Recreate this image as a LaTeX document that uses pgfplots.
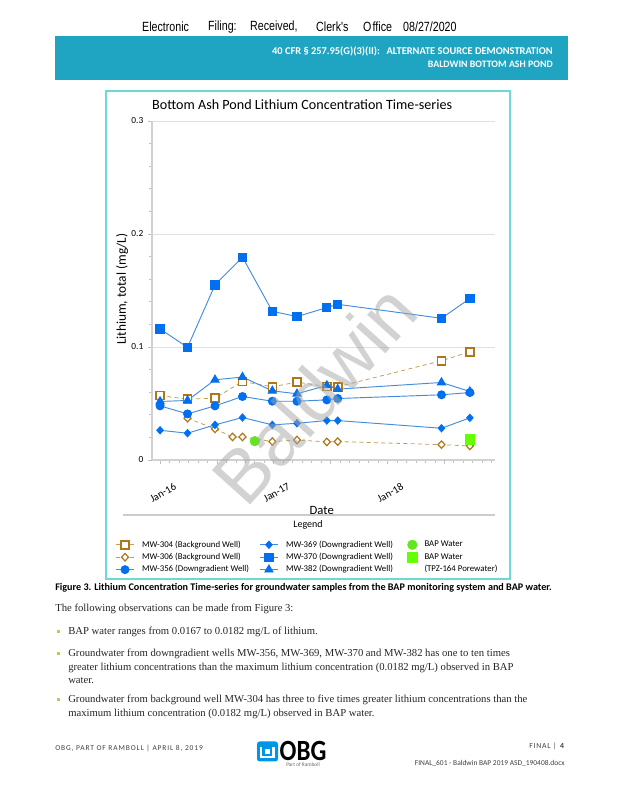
\documentclass[border=0pt]{standalone}
\usepackage{fontspec}
\setmainfont{Carlito}
\newfontfamily\arialf{Liberation Sans}
\newfontfamily\bodyf{Liberation Serif}
\usepackage{pgfplots}
\pgfplotsset{compat=1.18}

\definecolor{banner}{RGB}{31,164,193}
\definecolor{frame}{RGB}{110,215,215}
\definecolor{bluem}{RGB}{0,112,240}
\definecolor{bluel}{RGB}{68,140,220}
\definecolor{brownm}{RGB}{178,118,24}
\definecolor{tanl}{RGB}{190,160,90}
\definecolor{bapg}{RGB}{100,230,30}
\definecolor{bapsq}{RGB}{102,255,0}
\definecolor{bulletc}{RGB}{196,200,90}
\definecolor{obg}{RGB}{0,150,230}

\begin{document}
\begin{tikzpicture}[x=0.75pt,y=0.75pt]
\fill[white] (0,0) rectangle (618,800);

% filing stamp
\begin{scope}[every node/.style={anchor=west, inner sep=0, font=\arialf\fontsize{10}{12}\selectfont, xscale=0.8}]
\node at (142,773) {Electronic};
\node at (208,773) {Filing:};
\node at (250,773) {Received,};
\node at (316,773) {Clerk's};
\node at (363,773) {O};
\node at (372.5,773) {ffice};
\node at (403,773) {08/27/2020};
\end{scope}

% banner
\fill[banner] (55,720) rectangle (568,764);
\node[anchor=east, inner sep=0, text=white, font=\bfseries\fontsize{7.8}{9}\selectfont] at (553,748.5) {40 CFR § 257.95(G)(3)(II):\hspace{5pt}ALTERNATE SOURCE DEMONSTRATION};
\node[anchor=east, inner sep=0, text=white, font=\bfseries\fontsize{7.4}{9}\selectfont] at (553,735.5) {BALDWIN BOTTOM ASH POND};

% chart frame
\draw[frame, line width=0.9pt] (106,221) rectangle (510,709);

\begin{axis}[
  at={(114pt,255pt)}, anchor=south west,
  width=257.25pt, height=254.25pt, scale only axis,
  xmin=-0.85, xmax=35.35, ymin=0, ymax=0.3,
  axis x line*=bottom, axis y line*=left,
  axis line style={draw=black!18, line width=0.8pt},
  tick style={draw=black!25, line width=0.5pt},
  tick align=outside,
  major tick length=3pt, minor tick length=2pt,
  /pgf/number format/assume math mode=true,
  ytick={0,0.1,0.2,0.3},
  minor ytick={0.02,0.04,0.06,0.08,0.12,0.14,0.16,0.18,0.22,0.24,0.26,0.28},
  ymajorgrids, major grid style={draw=black!12, line width=0.6pt},
  xtick={0,12,24}, xticklabels={Jan-16,Jan-17,Jan-18},
  extra x ticks={6,18,30}, extra x tick labels={},
  minor xtick={-0,1,...,35},
  yticklabel style={font=\fontsize{7}{8}\selectfont},
  xticklabel style={font=\fontsize{8}{9}\selectfont, rotate=30, anchor=north east, xshift=5.2pt, yshift=-13.5pt},
  title={Bottom Ash Pond Lithium Concentration Time-series},
  title style={at={(axis description cs:0.438,1.025)}, anchor=center, font=\fontsize{10.6}{12}\selectfont},
  xlabel={Date},
  xlabel style={at={(axis description cs:0.495,-0.150)}, anchor=center, font=\fontsize{9.5}{11}\selectfont},
  ylabel={Lithium, total (mg/L)},
  ylabel style={at={(axis description cs:-0.087,0.504)}, anchor=center, font=\fontsize{10}{12}\selectfont},
  legend columns=3, transpose legend,
  legend image code/.code={\draw[mark repeat=2,mark phase=2,#1] plot coordinates {(0pt,0pt) (7pt,0pt) (14pt,0pt)};},
  legend style={at={(axis description cs:-0.108,-0.231)}, anchor=north west,
    draw=none, fill=none, inner sep=0pt, font=\fontsize{6.6}{8}\selectfont,
    row sep=0pt, nodes={inner sep=1.5pt},
    /tikz/every odd column/.append style={column sep=4pt},
    /tikz/every even column/.append style={column sep=6pt}},
  legend cell align=left,
]
\addplot[color=tanl, line width=0.6pt, dash pattern=on 3pt off 2.5pt, mark=square*, mark size=3pt,
  mark options={draw=brownm, fill=white, line width=1.2pt, solid}] coordinates {
  (0,0.0571) (2.9,0.0538) (5.8,0.0547) (8.7,0.0695) (11.85,0.0648) (14.45,0.0689) (17.6,0.0650) (18.75,0.0648) (29.7,0.0878) (32.7,0.0958)};
\addlegendentry{MW-304 (Background Well)}
\addplot[color=tanl, line width=0.6pt, dash pattern=on 3pt off 2.5pt, mark=diamond*, mark size=2.8pt,
  mark options={draw=brownm, fill=white, line width=0.9pt, solid, xscale=1.25}] coordinates {
  (2.9,0.0370) (5.8,0.0275) (7.65,0.0204) (8.7,0.0204) (11.85,0.0163) (14.45,0.0177) (17.6,0.0160) (18.75,0.0163) (29.7,0.0136) (32.7,0.0124)};
\addlegendentry{MW-306 (Background Well)}
\addplot[color=bluel, line width=0.7pt, mark=*, mark size=3pt, mark options={draw=bluem, fill=bluem}] coordinates {
  (0,0.0479) (2.9,0.0408) (5.8,0.0479) (8.7,0.0562) (11.85,0.0520) (14.45,0.0520) (17.6,0.0532) (18.75,0.0544) (29.7,0.0577) (32.7,0.0597)};
\addlegendentry{MW-356 (Downgradient Well)}
\addplot[color=bluel, line width=0.7pt, mark=diamond*, mark size=2.7pt, mark options={draw=bluem, fill=bluem, xscale=1.2}] coordinates {
  (0,0.0263) (2.9,0.0237) (5.8,0.0311) (8.7,0.0376) (11.85,0.0311) (14.45,0.0325) (17.6,0.0349) (18.75,0.0349) (29.7,0.0281) (32.7,0.0373)};
\addlegendentry{MW-369 (Downgradient Well)}
\addplot[color=bluel, line width=0.7pt, mark=square*, mark size=3.1pt, mark options={draw=bluem, fill=bluem}] coordinates {
  (0,0.1160) (2.9,0.0997) (5.8,0.1550) (8.7,0.1795) (11.85,0.1316) (14.45,0.1269) (17.6,0.1349) (18.75,0.1378) (29.7,0.1254) (32.7,0.1429)};
\addlegendentry{MW-370 (Downgradient Well)}
\addplot[color=bluel, line width=0.7pt, mark=triangle*, mark size=3.5pt, mark options={draw=bluem, fill=bluem}] coordinates {
  (0,0.0518) (2.9,0.0527) (5.8,0.0710) (8.7,0.0734) (11.85,0.0612) (14.45,0.0586) (17.6,0.0660) (18.75,0.0627) (29.7,0.0686) (32.7,0.0606)};
\addlegendentry{MW-382 (Downgradient Well)}
\addplot[only marks, mark=*, mark size=3.6pt, mark options={draw=bapg, fill=bapg}] coordinates {(10.0,0.0167)};
\addlegendentry{BAP Water}
\addplot[only marks, mark=square*, mark size=3.6pt, mark options={draw=bapsq, fill=bapsq}] coordinates {(32.7,0.0182)};
\addlegendentry{BAP Water}
\addlegendimage{empty legend}
\addlegendentry{(TPZ-164 Porewater)}
\end{axis}

\draw[black!20, line width=1.5pt] (123,285) -- (495,285);
\node[font=\fontsize{7.5}{9}\selectfont] at (308,275) {Legend};

% caption
\node[anchor=west, inner sep=0, font=\bfseries\fontsize{7.6}{9}\selectfont] at (55,212) {Figure 3. Lithium Concentration Time-series for groundwater samples from the BAP monitoring system and BAP water.};

% body text
\begin{scope}[every node/.style={anchor=west, inner sep=0, font=\bodyf\fontsize{8}{10}\selectfont, text=black!85}]
\node at (55,191) {The following observations can be made from Figure 3:};
\node at (68,168) {BAP water ranges from 0.0167 to 0.0182 mg/L of lithium.};
\node at (68,146) {Groundwater from downgradient wells MW-356, MW-369, MW-370 and MW-382 has one to ten times};
\node at (68,132) {greater lithium concentrations than the maximum lithium concentration (0.0182 mg/L) observed in BAP};
\node at (68,119) {water.};
\node at (68,100) {Groundwater from background well MW-304 has three to five times greater lithium concentrations than the};
\node at (68,86) {maximum lithium concentration (0.0182 mg/L) observed in BAP water.};
\end{scope}
\foreach \yy in {168,146,100} {\fill[bulletc] (56.5,\yy-1.5) rectangle (59.5,\yy+1.5);}

% footer
\node[anchor=west, inner sep=0, text=black!75, font=\fontsize{5.6}{7}\selectfont\addfontfeature{LetterSpace=12}] at (55,52) {OBG, PART OF RAMBOLL | APRIL 8, 2019};
\fill[obg, rounded corners=2pt] (257,38.5) rectangle (278,58.5);
\draw[white, line width=1.6pt] (261,53) -- (261,43) -- (273.5,43) -- (273.5,53);
\fill[white] (264.5,46) rectangle (270,51);
\node[anchor=west, inner sep=0, font=\bfseries\fontsize{22}{22}\selectfont, xscale=0.85] at (279.5,49) {OBG};
\node[anchor=west, inner sep=0, text=black!60, font=\fontsize{4}{5}\selectfont] at (286,35) {Part of Ramboll};
\node[anchor=east, inner sep=0, text=black!75, font=\fontsize{5.8}{7}\selectfont\addfontfeature{LetterSpace=10}] at (565,54) {FINAL | \textbf{4}};
\node[anchor=east, inner sep=0, text=black!75, font=\fontsize{5.6}{7}\selectfont] at (565,37) {FINAL\_601 - Baldwin BAP 2019 ASD\_190408.docx};

% watermark
\node[rotate=48, font=\arialf\fontsize{56}{56}\selectfont, text=black!35, opacity=0.5] at (314,406) {Baldwin};
\end{tikzpicture}
\end{document}
